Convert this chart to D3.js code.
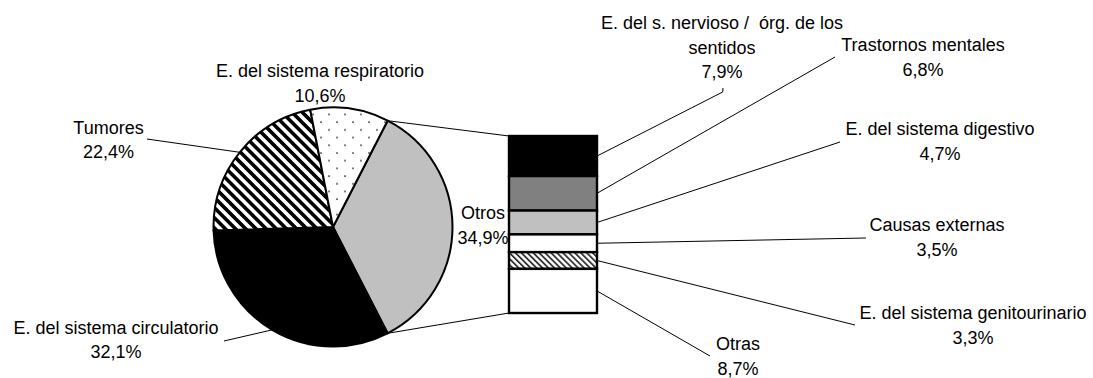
<!DOCTYPE html>
<html>
<head>
<meta charset="utf-8">
<script src="https://cdn.jsdelivr.net/npm/d3@7"></script>
<style>
  html, body { margin: 0; padding: 0; background: #fff; }
  svg { display: block; }
  text { font-family: "Liberation Sans", Arial, sans-serif; font-size: 18px; fill: #000; white-space: pre; }
</style>
</head>
<body>
<svg id="chart" width="1093" height="378"></svg>
<script>
// Main pie: causes of death
const pieCategories = ["Otros", "E. del sistema circulatorio", "Tumores", "E. del sistema respiratorio"];
const pieValues = [34.9, 32.1, 22.4, 10.6];
const pieLabels = ["34,9%", "32,1%", "22,4%", "10,6%"];

// Breakdown of "Otros", top to bottom in the stacked bar
const barCategories = ["E. del s. nervioso /  órg. de los\nsentidos", "Trastornos mentales", "E. del sistema digestivo",
  "Causas externas", "E. del sistema genitourinario", "Otras"];
const barValues = [7.9, 6.8, 4.7, 3.5, 3.3, 8.7];
const barLabels = ["7,9%", "6,8%", "4,7%", "3,5%", "3,3%", "8,7%"];

const svg = d3.select("#chart");
const defs = svg.append("defs");

// Fill patterns
const stripes = defs.append("pattern").attr("id", "stripes")
  .attr("patternUnits", "userSpaceOnUse").attr("width", 7.2).attr("height", 10)
  .attr("patternTransform", "rotate(-45)");
stripes.append("rect").attr("width", 7.2).attr("height", 10).attr("fill", "#fff");
stripes.append("rect").attr("width", 3.6).attr("height", 10).attr("fill", "#000");

const fineStripes = defs.append("pattern").attr("id", "fineStripes")
  .attr("patternUnits", "userSpaceOnUse").attr("width", 4.2).attr("height", 10)
  .attr("patternTransform", "rotate(-45)");
fineStripes.append("rect").attr("width", 4.2).attr("height", 10).attr("fill", "#fff");
fineStripes.append("rect").attr("width", 1.8).attr("height", 10).attr("fill", "#333");

const dots = defs.append("pattern").attr("id", "dots")
  .attr("patternUnits", "userSpaceOnUse").attr("width", 16).attr("height", 15.4);
dots.append("rect").attr("width", 16).attr("height", 15.4).attr("fill", "#fff");
dots.append("circle").attr("cx", 4).attr("cy", 3).attr("r", 0.9).attr("fill", "#222");
dots.append("circle").attr("cx", 12).attr("cy", 10.7).attr("r", 0.9).attr("fill", "#222");

const pieFills = ["#c0c0c0", "#000000", "url(#stripes)", "url(#dots)"];
const barFills = ["#000000", "#808080", "#c0c0c0", "#ffffff", "url(#fineStripes)", "#ffffff"];

// ---- Pie ----
const cx = 333, cy = 227, r = 119.5;
const otrosShare = pieValues[0] / d3.sum(pieValues);
const start = Math.PI / 2 - otrosShare * Math.PI;
const pie = d3.pie().sort(null).startAngle(start).endAngle(start + 2 * Math.PI);
const arcs = pie(pieValues);
const arc = d3.arc().innerRadius(0).outerRadius(r);
const pt = (a, rad) => [cx + rad * Math.sin(a), cy - rad * Math.cos(a)];

const gPie = svg.append("g").attr("transform", `translate(${cx},${cy})`);
gPie.selectAll("path").data(arcs).join("path")
  .attr("d", arc)
  .attr("fill", (d, i) => pieFills[i])
  .attr("stroke", "#000").attr("stroke-width", 2).attr("stroke-linejoin", "round");

// ---- Stacked bar ----
const barX0 = 509, barX1 = 597;
const y = d3.scaleLinear().domain([0, d3.sum(barValues)]).range([136, 313]);
const cum = d3.cumsum(barValues);
const segs = barValues.map((v, i) => ({ v, y0: cum[i] - v, y1: cum[i], i }));

// Connectors from the "Otros" slice to the bar
const otros = arcs[0];
const pTop = pt(otros.startAngle, r), pBot = pt(otros.endAngle, r);
svg.append("line").attr("x1", pTop[0]).attr("y1", pTop[1]).attr("x2", barX0).attr("y2", y(0))
  .attr("stroke", "#000").attr("stroke-width", 1);
svg.append("line").attr("x1", pBot[0]).attr("y1", pBot[1]).attr("x2", barX0).attr("y2", y(d3.sum(barValues)))
  .attr("stroke", "#000").attr("stroke-width", 1);

svg.append("g").selectAll("rect").data(segs).join("rect")
  .attr("x", barX0).attr("width", barX1 - barX0)
  .attr("y", d => y(d.y0)).attr("height", d => y(d.y1) - y(d.y0))
  .attr("fill", d => barFills[d.i])
  .attr("stroke", "#000").attr("stroke-width", 2.4);

// ---- Labels ----
const lineGap = 24.5;
function label(lines, x, yBase) {
  const t = svg.append("text").attr("text-anchor", "middle");
  lines.forEach((s, k) => t.append("tspan").attr("x", x).attr("y", yBase + k * lineGap).text(s));
}

// Pie label layout: text centre / first baseline / leader end (null = no leader)
const pieLabelLayout = [
  { x: 483, y: 219, lead: null },
  { x: 116, y: 333.5, lead: [224, 341] },
  { x: 108.5, y: 133.5, lead: [147, 139] },
  { x: 320, y: 77, lead: null }
];
arcs.forEach((d, i) => {
  const L = pieLabelLayout[i];
  const name = pieCategories[i];
  label([name, pieLabels[i]], L.x, L.y);
  if (L.lead) {
    const mid = (d.startAngle + d.endAngle) / 2;
    const p = pt(mid, r);
    svg.append("polyline").attr("points", [p, L.lead].map(q => q.join(",")).join(" "))
      .attr("fill", "none").attr("stroke", "#000").attr("stroke-width", 1);
  }
});

const barLabelLayout = [
  { x: 722, y: 29, lead: [[722.7, 92], [723, 88]] },
  { x: 923, y: 51, lead: [[835, 57]] },
  { x: 940, y: 135, lead: [[840, 142]] },
  { x: 937, y: 231, lead: [[866, 238]] },
  { x: 973, y: 319, lead: [[855, 325]] },
  { x: 738, y: 350, lead: [[710, 356]] }
];
segs.forEach((d, i) => {
  const L = barLabelLayout[i];
  label([...barCategories[i].split("\n"), barLabels[i]], L.x, L.y);
  const p = [barX1, y((d.y0 + d.y1) / 2)];
  svg.append("polyline").attr("points", [p, ...L.lead].map(q => q.join(",")).join(" "))
    .attr("fill", "none").attr("stroke", "#000").attr("stroke-width", 1);
});
</script>
</body>
</html>
